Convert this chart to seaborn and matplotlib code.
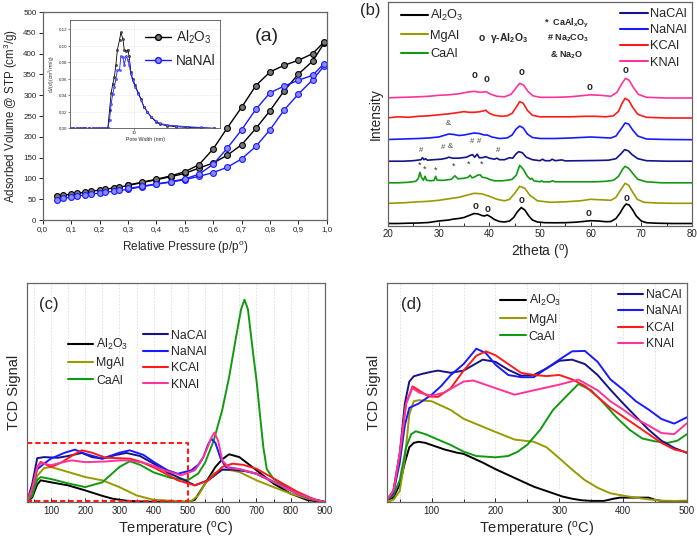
import numpy as np
import pandas as pd
import matplotlib
matplotlib.use('Agg')
import matplotlib.pyplot as plt
import seaborn as sns
from matplotlib.lines import Line2D
from matplotlib.ticker import MultipleLocator, FixedLocator, FixedFormatter, NullLocator, NullFormatter

# ---------------- DATA ----------------
# (a) N2 isotherms
p_ads = [0.05, 0.07, 0.10, 0.12, 0.15, 0.17, 0.20, 0.22, 0.25, 0.27, 0.30, 0.35, 0.40, 0.45, 0.50,
         0.55, 0.60, 0.65, 0.70, 0.75, 0.80, 0.85, 0.90, 0.95, 0.99]
al_ads = [57, 59, 62, 64, 67, 69, 72, 74, 77, 79, 83, 90, 97, 104, 112, 125, 137, 156, 181, 220, 263, 311, 351, 382, 425]
na_ads = [48, 52, 55, 58, 60, 62, 65, 67, 69, 71, 74, 80, 86, 91, 97, 105, 114, 127, 147, 177, 217, 265, 303, 337, 370]
p_des = [0.99, 0.95, 0.90, 0.85, 0.80, 0.75, 0.70, 0.65, 0.60, 0.55, 0.50, 0.45, 0.40, 0.35, 0.30]
al_des = [428, 400, 384, 372, 356, 323, 271, 222, 171, 133, 116, 106, 98, 91, 84]
na_des = [376, 348, 336, 322, 306, 266, 217, 173, 134, 110, 99, 92, 87, 81, 76]

# (a) inset pore size distribution
pore_w = [3.0, 3.2, 3.4, 3.6, 3.8, 4.0, 4.3, 4.6, 4.9, 5.2, 5.5, 5.8, 6.1, 6.3, 6.5, 6.7, 6.9, 7.1, 7.3, 7.6,
          7.8, 8.1, 8.3, 8.6, 8.9, 9.1, 9.4, 9.7, 10.2, 10.8, 11.4, 12.0, 12.8, 13.7, 15.0, 16.2, 18.5, 22, 27, 35, 45]
psd_al = [0, 0, 0, 0, 0, 0, 0, 0, 0, 0, 0, 0, 0, 0.022, 0.043, 0.054, 0.062, 0.077, 0.095, 0.107, 0.116,
          0.108, 0.095, 0.093, 0.095, 0.087, 0.068, 0.060, 0.052, 0.043, 0.035, 0.026, 0.020, 0.014, 0.008,
          0.005, 0.003, 0.002, 0.001, 0.0005, 0.0]
psd_na = [0, 0, 0, 0, 0, 0, 0, 0, 0, 0, 0, 0, 0, 0.010, 0.030, 0.042, 0.050, 0.060, 0.070, 0.071, 0.087,
          0.086, 0.077, 0.087, 0.083, 0.077, 0.066, 0.058, 0.050, 0.042, 0.034, 0.026, 0.020, 0.014, 0.009,
          0.006, 0.004, 0.003, 0.002, 0.001, 0.0]

# (b) XRD patterns (profile above own baseline)
xrd_x_al = [20, 22, 24, 26, 28, 30, 31, 32, 33, 34, 35, 36, 37, 37.8, 38.5, 39, 39.6, 40.3, 41, 42, 43, 44, 44.8,
            45.5, 46.3, 47, 47.8, 48.5, 49.5, 51, 53, 55, 57, 58.5, 60, 61.5, 63, 64, 65, 65.8, 66.5, 67, 67.6,
            68.3, 69, 70, 71, 73, 76, 80]
xrd_y_al = [0.5, 0.5, 0.8, 1, 1.5, 3, 3.5, 4, 5, 5.5, 6.5, 8.5, 10.5, 10, 8.5, 8, 9, 7, 4.5, 2.5, 2, 3, 6.5,
            12, 16.5, 14, 8, 4, 2, 1.3, 1.2, 1.3, 1.8, 2.5, 3.3, 3, 2.3, 2.5, 5.5, 11, 17, 20, 19, 14, 8, 3,
            1.3, 0.8, 0.5, 0.5]
xrd_x_mg = [20, 23, 26, 28, 30, 32, 34, 35.5, 37, 38.5, 40, 41.5, 43, 44, 45, 46, 47, 48, 49.5, 52, 55, 58, 60,
            62, 64, 65, 66, 66.8, 67.5, 68.3, 69.2, 70.5, 73, 76, 80]
xrd_y_mg = [0, 0.5, 1.5, 2, 3, 4.5, 6, 8, 10, 9.5, 7, 4, 2.5, 4, 10, 17, 15, 8, 2.5, 1, 1.5, 2.5, 4, 3.5, 3, 6,
            14, 20, 18, 11, 4, 1, 0.3, 0, 0]
xrd_x_ca = [20, 22, 24, 25.5, 26, 26.3, 26.6, 27, 27.3, 27.6, 28.5, 29.1, 29.4, 29.7, 31, 32.5, 33.2, 33.8, 35,
            35.8, 36.2, 36.6, 37.2, 37.6, 38.2, 38.6, 39.3, 40, 41, 42.5, 43.5, 44.5, 45.3, 46, 46.7, 47.5,
            48.1, 48.4, 48.8, 50, 50.3, 50.6, 52, 52.5, 53, 55, 58, 61, 63, 64.5, 65.5, 66.3, 66.8, 67.5,
            68.3, 69.3, 71, 74, 77, 80]
xrd_y_ca = [0.5, 0.5, 1, 2, 5, 11, 6, 3, 7, 3, 2.5, 3, 7, 3, 3, 4, 7.5, 4.5, 5, 6, 8, 5.5, 6.5, 8, 8.5, 6, 5.5,
            4, 2.5, 2.5, 3, 4, 8, 18, 14, 7, 4, 5, 2.5, 1.5, 2.5, 1.5, 1.5, 2.5, 1.5, 1.5, 1.5, 1.5, 2, 3, 7,
            14, 17, 15, 10, 4, 1.5, 0.5, 0.5, 0.5]
xrd_x_nac = [20, 23, 25, 26.5, 26.8, 27.1, 27.4, 27.8, 29, 30.5, 31.5, 32, 32.8, 34, 35.5, 36.3, 36.7, 37.1,
             37.6, 38, 38.6, 39.3, 40, 41, 41.5, 42, 43, 44, 44.6, 45.3, 45.8, 46.5, 47.3, 48.5, 50, 50.5,
             51, 52, 52.4, 53, 54.3, 55, 58, 61, 63.5, 65, 66, 66.7, 67.4, 68.2, 69.3, 71, 75, 80]
xrd_y_nac = [0.5, 0.5, 1, 2, 4, 2, 3, 1.5, 2, 2.5, 3.5, 4.5, 3.5, 3.5, 4.5, 6.5, 7, 4.5, 7.5, 4, 4, 5, 3.5,
             2.5, 3.5, 2, 2, 4, 3.5, 8, 10, 9, 4.5, 2, 1, 2.5, 1, 1, 2.5, 1, 1.8, 0.8, 1, 1.2, 1.5, 3, 8, 12,
             11, 7, 3, 1, 0.5, 0.5]
xrd_x_nan = [20, 23, 26, 28, 30, 31, 32, 33, 34, 35, 36, 37, 38, 39, 39.6, 40.5, 42, 43.5, 44.5, 45.3, 46,
             46.7, 47.5, 48.5, 50, 53, 56, 58, 60, 62, 64, 65, 66, 66.8, 67.5, 68.3, 69.3, 71, 75, 80]
xrd_y_nan = [0.5, 1, 1.5, 2, 3, 4.5, 6, 5.5, 4.5, 5, 6, 7, 6.5, 5, 5, 3, 1.5, 2, 5, 11, 14, 12, 6, 2.5, 1.5,
             1.5, 2, 2.5, 3, 2.5, 2, 4, 11, 17, 16, 10, 4, 1, 0.5, 0.3]
xrd_x_kc = [20, 22, 24, 26, 28, 30, 32, 33.5, 35, 36, 37, 38, 39.3, 40, 41, 42.5, 43.5, 44.5, 45.3, 46, 46.7,
            47.5, 48.5, 50, 53, 56, 59, 61, 63, 64.5, 65.5, 66.2, 66.8, 67.5, 68.3, 69.3, 71, 75, 80]
xrd_y_kc = [0.5, 1.5, 1, 2, 2.5, 3.5, 4.5, 5.5, 6.7, 6, 6, 6.5, 8, 5, 3, 2, 2.5, 5, 11, 16.7, 15, 8, 3, 1.5,
            1.5, 1.5, 2, 2, 1.5, 2.5, 7, 15, 20, 18, 11, 4, 1, 0.3, 0.3]
xrd_x_kn = [20, 23, 26, 28, 30, 32, 34, 35.5, 37, 38.2, 39.4, 40.3, 41.5, 43, 44.3, 45.2, 46, 46.8, 47.6, 48.6,
            50, 53, 56, 58, 60, 62, 64, 65.2, 66.2, 66.9, 67.6, 68.4, 69.4, 71, 75, 80]
xrd_y_kn = [0.5, 1, 1.5, 2, 3, 3.5, 4.5, 6, 7, 6, 6.5, 4, 2, 1.5, 4, 10, 15, 13, 7, 2.5, 1, 1, 1.5, 2.5, 3.5,
            3, 2, 6, 15, 20, 18, 11, 4, 1, 0.3, 0.3]
xrd_offsets = [2, 22.7, 42.7, 64.3, 86, 107.7, 127.7]

# (c) H2-TPR full range
tc_al = [30, 45, 60, 70, 100, 150, 200, 250, 280, 320, 350, 400, 450, 500, 520, 550, 580, 600, 620, 650, 700, 750, 800, 850, 900]
c_al = [0, 2, 8, 9.9, 9.0, 7.6, 5.3, 2.8, 1.5, 0.6, 0.3, 0.1, 0.1, 0, 1, 8.4, 16, 19.5, 21.8, 20.5, 14.5, 8.4, 3.8, 0.8, 0]
tc_mg = [30, 45, 60, 80, 100, 150, 200, 250, 300, 350, 400, 450, 490, 510, 530, 550, 575, 600, 625, 650, 700, 750, 800, 850, 900]
c_mg = [0, 3, 12, 15.5, 16, 13.7, 11.4, 9.9, 6.8, 3, 1, 0.6, 0.3, 0.5, 3, 8.4, 13, 14.8, 14.5, 13.7, 9.9, 6.8, 3.8, 1.5, 0]
tc_ca = [30, 45, 60, 70, 100, 150, 200, 250, 300, 330, 360, 400, 450, 500, 530, 550, 575, 600, 620, 640, 655, 665,
         675, 690, 700, 710, 720, 730, 750, 800, 850, 900]
c_ca = [0, 3, 10, 11.4, 10.5, 8.5, 6.8, 9, 16, 18.6, 17, 13.5, 11, 10, 13, 18, 28, 42, 57, 75, 88, 92.4, 88, 68,
        55.6, 40, 25, 15, 10.5, 5.5, 2, 0]
tc_nac = [30, 45, 60, 80, 120, 150, 190, 220, 250, 290, 320, 360, 400, 440, 480, 520, 560, 600, 630, 670, 700, 760, 820, 870, 900]
c_nac = [0, 8, 20, 20.5, 20.2, 21, 22.4, 20.5, 19.8, 21.5, 22.4, 21, 17.5, 13.5, 10.7, 7.6, 10, 14.8, 14.8, 14, 12.9, 8.4, 3.8, 1, 0]
tc_nan = [30, 45, 60, 80, 100, 140, 170, 200, 250, 300, 330, 370, 400, 440, 470, 510, 530, 545, 558, 568, 580, 595,
          610, 650, 700, 760, 820, 870, 900]
c_nan = [0, 6, 15, 17.5, 19.8, 22.5, 23.9, 22, 19.8, 22.5, 23.6, 21.5, 18.3, 14.5, 12.9, 14.5, 17, 20.5, 26, 28.9,
         27, 20, 16, 15, 12.9, 8.4, 3.8, 1, 0]
tc_kc = [30, 45, 60, 70, 100, 130, 160, 190, 220, 260, 300, 330, 360, 400, 440, 470, 520, 560, 600, 630, 660, 700,
         760, 820, 870, 900]
c_kc = [0, 6, 16, 18.3, 16, 18, 21, 23.6, 22.5, 20.2, 20, 19.8, 18.5, 15.8, 12.5, 9.9, 7.6, 10, 16, 17.5, 17, 15.2,
        9.9, 4.6, 1.1, 0]
tc_kn = [30, 45, 60, 70, 100, 130, 160, 200, 220, 260, 300, 330, 370, 400, 430, 480, 520, 540, 555, 567, 577, 588,
         600, 620, 650, 700, 760, 820, 870, 900]
c_kn = [0, 6, 16, 17.8, 16.8, 18, 19, 18.2, 18.3, 18.5, 19, 19, 18, 16.5, 14.5, 12.2, 14.5, 19, 24, 29, 31.7, 28,
        19, 15.5, 15, 12.9, 8.4, 3.8, 1, 0]

# (d) H2-TPR low temperature
td_al = [30, 40, 50, 58, 65, 72, 80, 90, 100, 120, 140, 150, 165, 180, 200, 215, 230, 245, 260, 275, 290, 305, 320,
         335, 350, 370, 385, 395, 410, 425, 440, 450, 460, 480, 500]
d_al = [1, 2, 8, 18, 25, 27, 27.5, 27, 26, 24, 22.5, 22, 20, 18, 15, 13, 11, 9, 7, 5.5, 4, 2.5, 1.5, 0.8, 0.5, 0.5,
        1.5, 2, 2, 2, 2, 1, 0.5, 0.3, 0]
td_mg = [30, 40, 50, 58, 65, 72, 80, 100, 115, 130, 150, 175, 200, 230, 260, 280, 300, 320, 340, 360, 380, 400, 420,
         440, 460, 480, 500]
d_mg = [0, 1, 5, 20, 40, 46, 46.5, 46, 44, 42, 38, 35, 32, 28.5, 27.5, 25, 20, 14.8, 10, 6.5, 4, 2.9, 2, 1.2, 0.6, 0.5, 0.6]
td_ca = [30, 40, 50, 60, 68, 75, 90, 110, 130, 150, 170, 200, 220, 235, 250, 270, 290, 310, 330, 350, 370, 390, 410,
         430, 450, 470, 485, 500]
d_ca = [1, 3, 10, 25, 31, 32.3, 31, 28.5, 26, 23, 21, 20.4, 21, 23, 26.2, 33, 42, 48, 53.9, 51, 45, 38.5, 33, 29,
        27.7, 27, 28, 31]
td_nac = [30, 40, 50, 58, 65, 72, 85, 100, 110, 130, 150, 165, 180, 200, 220, 240, 260, 280, 300, 320, 340, 360, 380,
          400, 420, 440, 460, 480, 500]
d_nac = [1, 5, 22, 45, 55, 57.4, 58.5, 59.5, 60, 59, 60, 62.5, 65, 64, 60.4, 57.7, 58, 61, 64.5, 65, 63, 58, 51.3,
         45, 39, 33, 28, 24.7, 22.4]
td_nan = [30, 40, 50, 58, 65, 80, 100, 115, 130, 150, 170, 185, 200, 220, 240, 260, 280, 300, 320, 340, 360, 380, 400,
          420, 440, 460, 480, 500]
d_nan = [1, 4, 18, 35, 43, 45, 49, 53, 58, 63, 70, 68, 62.7, 58, 57, 57, 61, 65, 68.8, 69, 64, 56, 51.3, 46, 42.2,
         37.9, 35.8, 38.7]
td_kc = [30, 40, 50, 60, 70, 80, 95, 110, 130, 150, 170, 185, 200, 220, 240, 260, 280, 300, 320, 340, 360, 380, 400,
         420, 440, 460, 480, 500]
d_kc = [1, 5, 22, 45, 52.8, 51, 48.2, 48, 52, 60, 66.8, 68.8, 67, 63, 59, 58, 57.5, 58, 56, 53, 48, 43, 39, 35, 31,
        27, 24, 22.7]
td_kn = [30, 40, 50, 60, 70, 80, 100, 120, 150, 165, 180, 200, 230, 260, 300, 330, 360, 380, 400, 420, 440, 460, 480, 500]
d_kn = [1, 5, 22, 45, 52, 50, 48.5, 50, 55, 55.5, 54, 52, 49, 51, 53.6, 55.9, 51, 46, 42.2, 38, 34.9, 31.5, 31, 36]

names = ['Al2O3', 'MgAl', 'CaAl', 'NaCAl', 'NaNAl', 'KCAl', 'KNAl']
labels = ['Al$_2$O$_3$', 'MgAl', 'CaAl', 'NaCAl', 'NaNAl', 'KCAl', 'KNAl']
colors = ['#000000', '#999900', '#119911', '#141488', '#1a1aff', '#ff1a1a', '#ff3399']

# ---------------- STYLE ----------------
sns.set_style('ticks')
plt.rcParams['font.family'] = ['Liberation Sans', 'DejaVu Sans']
plt.rcParams['mathtext.fontset'] = 'custom'
plt.rcParams['mathtext.rm'] = 'Liberation Sans'
plt.rcParams['mathtext.it'] = 'Liberation Sans:italic'
plt.rcParams['mathtext.bf'] = 'Liberation Sans:bold'
plt.rcParams['mathtext.default'] = 'regular'

fig = plt.figure(figsize=(6.97, 5.43), dpi=100)
SPINE = '#666666'


def draw(ax, x, y, color, lw=1.3, **kw):
    sns.lineplot(x=x, y=y, ax=ax, color=color, lw=lw, sort=False, estimator=None, legend=False, **kw)


def frame(ax):
    for s in ax.spines.values():
        s.set_color(SPINE)
        s.set_linewidth(0.9)
        s.set_visible(True)


# ---------------- (a) ----------------
axA = fig.add_axes([0.0613, 0.5948, 0.4077, 0.3831])
mk = dict(marker='o', markersize=4.2, markeredgewidth=0.8)
draw(axA, p_ads, al_ads, 'black', lw=1.0, markerfacecolor='#777777', markeredgecolor='black', **mk)
draw(axA, p_des, al_des, 'black', lw=1.0, markerfacecolor='#777777', markeredgecolor='black', **mk)
draw(axA, p_ads, na_ads, '#1a1aff', lw=1.0, markerfacecolor='#8a8aff', markeredgecolor='#1a1aff', **mk)
draw(axA, p_des, na_des, '#1a1aff', lw=1.0, markerfacecolor='#8a8aff', markeredgecolor='#1a1aff', **mk)
axA.set_xlim(0, 1.0)
axA.set_ylim(0, 500)
xt = [i / 10 for i in range(11)]
axA.xaxis.set_major_locator(FixedLocator(xt))
axA.set_xticklabels([('%.1f' % v).replace('.', ',') for v in xt])
axA.yaxis.set_major_locator(MultipleLocator(50))
axA.tick_params(labelsize=5.8, length=3, width=0.7, direction='out', pad=1.5)
axA.set_xlabel('Relative Pressure (p/p$^o$)', fontsize=8.5, labelpad=4)
axA.set_ylabel('Adsorbed Volume @ STP (cm$^3$/g)', fontsize=8.3, labelpad=2)
frame(axA)
axA.text(0.79, 441, '(a)', fontsize=14, ha='center', va='center')

# inset
axI = fig.add_axes([0.1004, 0.7637, 0.2152, 0.1994])
draw(axI, pore_w, psd_al, 'black', lw=0.6, marker='o', markersize=1.6, markerfacecolor='#555555',
     markeredgecolor='black', markeredgewidth=0.3)
draw(axI, pore_w, psd_na, '#1a1aff', lw=0.6, marker='o', markersize=1.6, markerfacecolor='#6a6aff',
     markeredgecolor='#1a1aff', markeredgewidth=0.3)
axI.set_xscale('log')
axI.set_xlim(3, 50)
axI.set_ylim(0, 0.131)
axI.xaxis.set_major_locator(FixedLocator([10]))
axI.xaxis.set_major_formatter(FixedFormatter(['10']))
axI.xaxis.set_minor_locator(NullLocator())
axI.xaxis.set_minor_formatter(NullFormatter())
yt = [0.0, 0.02, 0.04, 0.06, 0.08, 0.10, 0.12]
axI.yaxis.set_major_locator(FixedLocator(yt))
axI.set_yticklabels([('%.2f' % v).replace('.', ',') for v in yt])
axI.tick_params(labelsize=3.2, length=1.2, width=0.4, pad=1)
axI.set_xlabel('Pore Width (nm)', fontsize=3.8, labelpad=1)
axI.set_ylabel('dV(d) (cm$^3$/nm/g)', fontsize=3.4, labelpad=1)
axI.grid(True, which='major', color='#cccccc', lw=0.4, ls=':')
for s in axI.spines.values():
    s.set_color('#555555')
    s.set_linewidth(0.6)

# legend of (a) drawn on top of the inset
hA = [Line2D([0], [0], color='black', lw=1.0, marker='o', markersize=4.2, markerfacecolor='#777777',
             markeredgecolor='black'),
      Line2D([0], [0], color='#1a1aff', lw=1.0, marker='o', markersize=4.2, markerfacecolor='#8a8aff',
             markeredgecolor='#1a1aff')]
fig.legend(hA, ['Al$_2$O$_3$', 'NaNAl'], loc='upper left', bbox_to_anchor=(145 / 697, 1 - 29 / 543),
           frameon=False, fontsize=9.8, handlelength=1.9, handletextpad=0.35, labelspacing=0.55,
           borderaxespad=0, borderpad=0)

# ---------------- (b) ----------------
axB = fig.add_axes([0.5567, 0.5838, 0.4361, 0.4125])
xrd = [(xrd_x_al, xrd_y_al), (xrd_x_mg, xrd_y_mg), (xrd_x_ca, xrd_y_ca), (xrd_x_nac, xrd_y_nac),
       (xrd_x_nan, xrd_y_nan), (xrd_x_kc, xrd_y_kc), (xrd_x_kn, xrd_y_kn)]
for (xx, yy), off, col in zip(xrd, xrd_offsets, colors):
    draw(axB, xx, [v + off for v in yy], col, lw=1.2)
axB.set_xlim(20, 80)
axB.set_ylim(0, 224)
axB.set_yticks([])
axB.xaxis.set_major_locator(MultipleLocator(10))
axB.xaxis.set_minor_locator(MultipleLocator(5))
axB.tick_params(axis='x', which='both', direction='in', labelsize=7, length=3, width=0.7, pad=2)
axB.tick_params(axis='x', which='minor', length=2)
axB.set_xlabel('2theta ($^o$)', fontsize=10, labelpad=3)
axB.set_ylabel('Intensity', fontsize=10, labelpad=4)
frame(axB)
hB = [Line2D([0], [0], color=c, lw=1.5) for c in colors]
legB1 = axB.legend(hB[:3], labels[:3], loc='upper left', bbox_to_anchor=(0.025, 0.995), frameon=False,
                   fontsize=9.2, handlelength=2.1, handletextpad=0.2, labelspacing=0.5, borderaxespad=0)
axB.add_artist(legB1)
axB.legend(hB[3:], labels[3:], loc='upper right', bbox_to_anchor=(1.0, 0.995), frameon=False,
           fontsize=9.2, handlelength=2.2, handletextpad=0.2, labelspacing=0.32, borderaxespad=0)
axB.text(42.7, 188, 'o  γ-Al$_2$O$_3$', fontsize=7.5, fontweight='bold', ha='center', va='center')
axB.text(55.3, 203, '*  CaAl$_x$O$_y$', fontsize=6.5, fontweight='bold', ha='center', va='center')
axB.text(55.5, 188, '# Na$_2$CO$_3$', fontsize=6.5, fontweight='bold', ha='center', va='center')
axB.text(55.3, 171, '& Na$_2$O', fontsize=6.5, fontweight='bold', ha='center', va='center')
for (x, y) in [(37, 151), (39.5, 147), (46.3, 154), (59.7, 139), (66.8, 156),
               (37.2, 20), (39.6, 17), (46.3, 26), (59.6, 13), (67, 28)]:
    axB.text(x, y, 'o', fontsize=7, fontweight='bold', ha='center', va='center')
for (x, y, s) in [(26.5, 75.3, '#'), (30.9, 78.3, '#'), (32.2, 79.5, '&'), (36.5, 84.3, '#'),
                  (38, 84.3, '#'), (41.8, 76, '#'), (31.9, 102.7, '&')]:
    axB.text(x, y, s, fontsize=5.5, color='#444444', ha='center', va='center')
for (x, y) in [(26.2, 60.7), (27.3, 56.7), (29.3, 56), (33, 60), (36, 62), (38.5, 62)]:
    axB.text(x, y, '*', fontsize=6.5, color='#333333', ha='center', va='center')
fig.text(370 / 697, 1 - 10 / 543, '(b)', fontsize=12, ha='center', va='center')

# ---------------- (c) ----------------
axC = fig.add_axes([0.0387, 0.0755, 0.4276, 0.4033])
tpr_c = [(tc_al, c_al), (tc_mg, c_mg), (tc_ca, c_ca), (tc_nac, c_nac), (tc_nan, c_nan), (tc_kc, c_kc), (tc_kn, c_kn)]
for (xx, yy), col in zip(tpr_c, colors):
    draw(axC, xx, yy, col, lw=1.4)
axC.set_xlim(30, 900)
axC.set_ylim(0, 100)
axC.set_yticks([])
axC.xaxis.set_major_locator(MultipleLocator(100))
axC.xaxis.set_minor_locator(MultipleLocator(50))
axC.tick_params(axis='x', which='both', direction='in', labelsize=7, length=3, width=0.7, pad=3)
axC.tick_params(axis='x', which='minor', length=2)
axC.grid(True, axis='x', which='both', color='#dddddd', lw=0.6, ls=(0, (2, 2)))
axC.plot([30, 500, 500, 30], [27.1, 27.1, 0.4, 0.4], color='#ff1a1a', lw=1.5, ls=(0, (2.5, 1.5)),
         clip_on=False)
axC.set_xlabel('Temperature ($^o$C)', fontsize=10.5, labelpad=3)
axC.set_ylabel('TCD Signal', fontsize=10.5, labelpad=4)
frame(axC)
hC = [Line2D([0], [0], color=c, lw=1.5) for c in colors]
legC1 = axC.legend(hC[:3], labels[:3], loc='upper left', bbox_to_anchor=(0.12, 0.775), frameon=False,
                   fontsize=8.8, handlelength=2.1, handletextpad=0.25, labelspacing=0.42, borderaxespad=0)
axC.add_artist(legC1)
axC.legend(hC[3:], labels[3:], loc='upper left', bbox_to_anchor=(0.372, 0.81), frameon=False,
           fontsize=8.8, handlelength=2.1, handletextpad=0.25, labelspacing=0.36, borderaxespad=0)
axC.text(95, 90, '(c)', fontsize=12, ha='center', va='center')

# ---------------- (d) ----------------
axD = fig.add_axes([0.5552, 0.0755, 0.4304, 0.4033])
tpr_d = [(td_al, d_al), (td_mg, d_mg), (td_ca, d_ca), (td_nac, d_nac), (td_nan, d_nan), (td_kc, d_kc), (td_kn, d_kn)]
for (xx, yy), col in zip(tpr_d, colors):
    draw(axD, xx, yy, col, lw=1.4)
axD.set_xlim(30, 500)
axD.set_ylim(0, 100)
axD.set_yticks([])
axD.xaxis.set_major_locator(MultipleLocator(100))
axD.xaxis.set_minor_locator(MultipleLocator(50))
axD.tick_params(axis='x', which='both', direction='in', labelsize=7, length=3, width=0.7, pad=3)
axD.tick_params(axis='x', which='minor', length=2)
axD.grid(True, axis='x', which='both', color='#dddddd', lw=0.6, ls=(0, (2, 2)))
axD.set_xlabel('Temperature ($^o$C)', fontsize=10.5, labelpad=3)
axD.set_ylabel('TCD Signal', fontsize=10.5, labelpad=4)
frame(axD)
hD = [Line2D([0], [0], color=c, lw=1.5) for c in colors]
legD1 = axD.legend(hD[:3], labels[:3], loc='upper left', bbox_to_anchor=(0.36, 0.975), frameon=False,
                   fontsize=8.8, handlelength=2.1, handletextpad=0.25, labelspacing=0.42, borderaxespad=0)
axD.add_artist(legD1)
axD.legend(hD[3:], labels[3:], loc='upper right', bbox_to_anchor=(1.0, 0.995), frameon=False,
           fontsize=8.8, handlelength=2.1, handletextpad=0.25, labelspacing=0.36, borderaxespad=0)
axD.text(68, 90, '(d)', fontsize=12, ha='center', va='center')

fig.savefig('out.png', dpi=100)
